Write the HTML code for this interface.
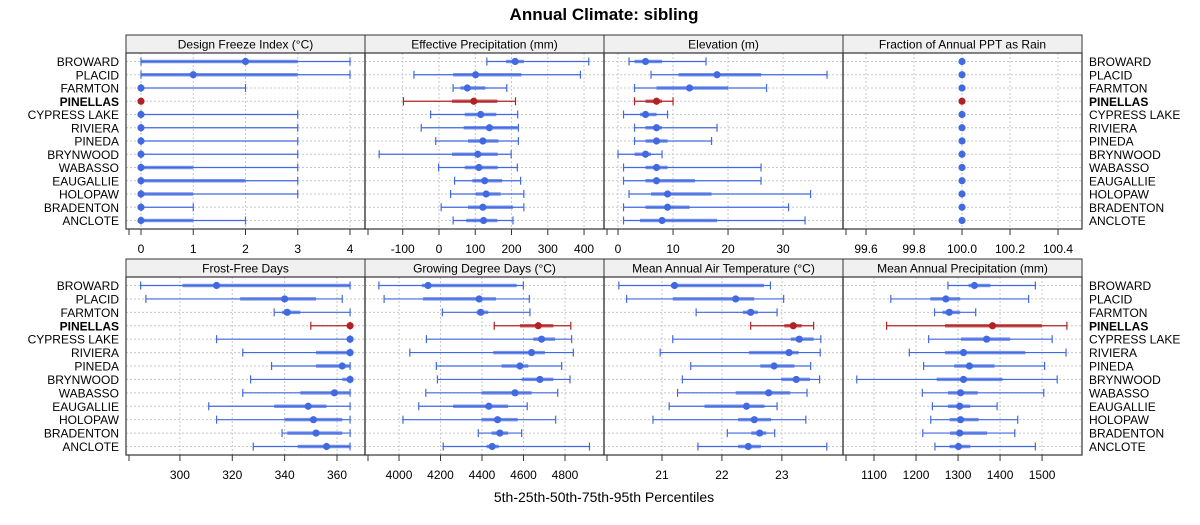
<!DOCTYPE html>
<html><head><meta charset="utf-8"><style>
body{margin:0;background:#fff;}
svg{display:block;font-family:"Liberation Sans",sans-serif;}
</style></head><body>
<svg id="c" width="1200" height="525" viewBox="0 0 1200 525">
<text x="604" y="20" text-anchor="middle" font-size="17" font-weight="bold">Annual Climate: sibling</text>
<text x="604" y="502" text-anchor="middle" font-size="14">5th-25th-50th-75th-95th Percentiles</text>
</svg>
<script>
const stations=["BROWARD","PLACID","FARMTON","PINELLAS","CYPRESS LAKE","RIVIERA","PINEDA","BRYNWOOD","WABASSO","EAUGALLIE","HOLOPAW","BRADENTON","ANCLOTE"];
const titles=["Design Freeze Index (°C)","Effective Precipitation (mm)","Elevation (m)","Fraction of Annual PPT as Rain","Frost-Free Days","Growing Degree Days (°C)","Mean Annual Air Temperature (°C)","Mean Annual Precipitation (mm)"];
const ticks=[[0,1,2,3,4],[-100,0,100,200,300,400],[0,10,20,30],[99.6,99.8,100,100.2,100.4],[300,320,340,360],[4000,4200,4400,4600,4800],[21,22,23],[1100,1200,1300,1400,1500]];
const tickLabels=[["0","1","2","3","4"],["-100","0","100","200","300","400"],["0","10","20","30"],["99.6","99.8","100.0","100.2","100.4"],["300","320","340","360"],["4000","4200","4400","4600","4800"],["21","22","23"],["1100","1200","1300","1400","1500"]];
const domains=[[-0.287,4.287],[-204,455],[-2.55,40.9],[99.504,100.5],[279.4,370.7],[3836,4988],[20.033,24.02],[1026.2,1595]];
const freeze=[[0,0,2,3,4],[0,0,1,3,4],[0,0,0,0,2],[0,0,0,0,0],[0,0,0,0,3],[0,0,0,0,3],[0,0,0,0,3],[0,0,0,0,3],[0,0,0,1,3],[0,0,0,2,3],[0,0,0,1,3],[0,0,0,0,1],[0,0,0,1,2]];
const effPrecip=[[132,185,210,234,413],[-69,39,101,227,390],[39,59,78,128,187],[-98,36,96,161,211],[-23,71,115,158,217],[-49,68,139,217,219],[-9,80,121,164,219],[-165,36,107,162,199],[-1,71,110,162,216],[43,92,126,174,225],[32,101,130,170,234],[6,80,121,204,234],[39,75,123,161,204]];
const elevation=[[2,3,5,8,16],[6,11,18,26,38],[3,7,13,20,27],[3,5,7,8,10],[1,4,5,7,9],[3,5,7,8,18],[3,5,7,9,17],[0,3,5,6,8],[1,5,7,9,26],[1,5,7,14,26],[2,6,9,17,35],[1,5,9,13,31],[1,4,8,18,34]];
const rainFrac=stations.map(()=>[100,100,100,100,100]);
const frostFree=[[285,301,314,365,365],[287,323,340,352,362],[336,339,341,346,365],[350,365,365,365,365],[314,365,365,365,365],[324,352,365,365,365],[335,352,362,365,365],[327,362,365,365,365],[324,346,359,365,365],[311,336,349,356,365],[314,340,351,362,365],[339,341,352,362,365],[328,345,356,365,365]];
const gdd=[[3903,4110,4140,4567,4599],[3928,4116,4386,4467,4628],[4209,4374,4394,4430,4631],[4459,4583,4671,4744,4828],[4132,4647,4687,4752,4832],[4052,4454,4639,4703,4840],[4180,4494,4583,4623,4784],[4185,4591,4679,4744,4824],[4129,4398,4559,4639,4765],[4095,4261,4433,4526,4618],[4019,4398,4475,4572,4755],[4382,4446,4486,4526,4591],[4213,4422,4449,4481,4918]];
const airTemp=[[20.28,21.15,21.21,22.7,22.81],[20.41,21.18,22.23,22.54,23.03],[21.57,22.35,22.48,22.6,22.92],[22.48,23.04,23.19,23.33,23.53],[21.18,23.15,23.29,23.53,23.65],[20.97,22.45,23.12,23.28,23.64],[21.48,22.64,22.87,23.21,23.48],[21.34,22.99,23.24,23.47,23.63],[21.26,22.23,22.78,23.14,23.42],[21.12,21.71,22.41,22.71,22.92],[20.85,22.27,22.54,22.82,23.4],[22.09,22.49,22.63,22.74,22.88],[21.6,22.27,22.44,22.65,23.75]];
const annPrecip=[[1276,1325,1339,1377,1484],[1140,1234,1271,1305,1468],[1244,1263,1279,1305,1342],[1130,1269,1382,1500,1559],[1230,1307,1368,1424,1524],[1184,1269,1313,1460,1557],[1218,1291,1327,1387,1506],[1059,1249,1313,1406,1536],[1215,1276,1306,1347,1504],[1239,1276,1304,1329,1393],[1235,1280,1306,1349,1442],[1216,1281,1304,1369,1435],[1245,1280,1301,1329,1484]];
const panelData=[freeze,effPrecip,elevation,rainFrac,frostFree,gdd,airTemp,annPrecip];

const svg=document.getElementById('c');
const NS='http://www.w3.org/2000/svg';
function mk(tag,a,parent){const e=document.createElementNS(NS,tag);for(const k in a)e.setAttribute(k,a[k]);(parent||svg).appendChild(e);return e;}
const colX=[126,365,604,843,1082];
const rows=[{s:35,t:53,b:229},{s:259,t:277,b:455}];
const BLUE='#4169E1',RED='#B22222';

for(let p=0;p<8;p++){
  const c=p%4,r=Math.floor(p/4);
  const x0=colX[c],x1=colX[c+1],R=rows[r];
  const d=domains[p];
  const sx=v=>x0+(v-d[0])/(d[1]-d[0])*(x1-x0);
  const sy=i=>R.t+8.5+i*((R.b-R.t-17)/12);
  const g=mk('g',{});
  
  
  const strip=mk('rect',{x:x0,y:R.s,width:x1-x0,height:R.t-R.s,fill:'#f0f0f0',stroke:'#333','stroke-width':1},g);
  
  
  const st=mk('text',{x:(x0+x1)/2,y:R.s+13.5,'text-anchor':'middle','font-size':12},g);
  st.textContent=titles[p];
  
  
  ticks[p].forEach(v=>mk('line',{x1:sx(v),x2:sx(v),y1:R.t,y2:R.b,stroke:'#c8c8c8','stroke-dasharray':'2,2'},g));
  stations.forEach((s,i)=>mk('line',{x1:x0,x2:x1,y1:sy(i),y2:sy(i),stroke:'#c8c8c8','stroke-dasharray':'2,2'},g));
  panelData[p].forEach((q,i)=>{
    const col=i===3?RED:BLUE,y=sy(i);
    const m=mk('g',{},g);
    
    
    if(q[4]>q[0]){
      mk('line',{x1:sx(q[0]),x2:sx(q[4]),y1:y,y2:y,stroke:col,'stroke-width':1.2},m);
      mk('line',{x1:sx(q[0]),x2:sx(q[0]),y1:y-4,y2:y+4,stroke:col,'stroke-width':1.2},m);
      mk('line',{x1:sx(q[4]),x2:sx(q[4]),y1:y-4,y2:y+4,stroke:col,'stroke-width':1.2},m);
    }
    if(q[3]>q[1])mk('line',{x1:sx(q[1]),x2:sx(q[3]),y1:y,y2:y,stroke:col,'stroke-width':3.5,'stroke-opacity':0.7},m);
    mk('circle',{cx:sx(q[2]),cy:y,r:3.6,fill:col},m);
  });
  const fr=mk('rect',{x:x0,y:R.t,width:x1-x0,height:R.b-R.t,fill:'none',stroke:'#333','stroke-width':1.2},g);
  
  
  const ax=mk('g',{},g);
  
  
  mk('line',{x1:x0+3,x2:x0+3,y1:R.b,y2:R.b+6,stroke:'#333'},ax);
  ticks[p].forEach((v,k)=>{
    mk('line',{x1:sx(v),x2:sx(v),y1:R.b,y2:R.b+6,stroke:'#333'},ax);
    const t=mk('text',{x:sx(v),y:R.b+24,'text-anchor':'middle','font-size':12},ax);
    t.textContent=tickLabels[p][k];
  });
}
for(let r=0;r<2;r++){
  const R=rows[r];
  stations.forEach((s,i)=>{
    const y=R.t+8.5+i*((R.b-R.t-17)/12)+4.5;
    const l=mk('text',{x:119,y:y,'text-anchor':'end','font-size':12,'font-weight':i===3?'bold':'normal'});
    l.textContent=s;
    
    
    const rt=mk('text',{x:1089,y:y,'font-size':12,'font-weight':i===3?'bold':'normal'});
    rt.textContent=s;
    
    
  });
}
</script>
</body></html>
